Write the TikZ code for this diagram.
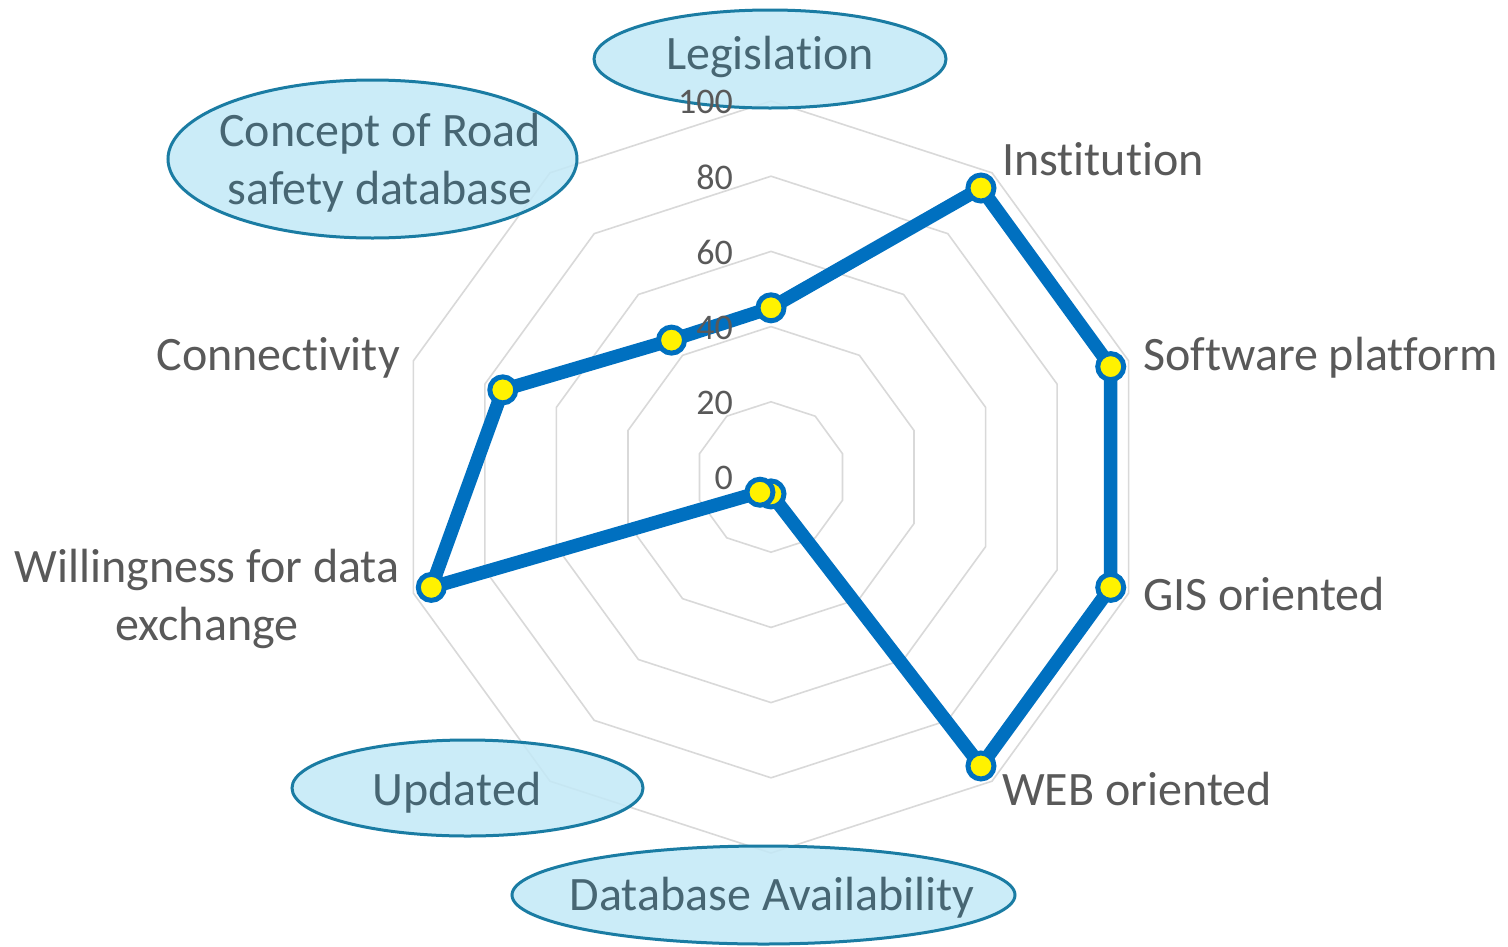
\documentclass[tikz,border=0pt]{standalone}
\usepackage{fontspec}
\setmainfont{Carlito}[Ligatures=NoCommon]
\usetikzlibrary{shapes.geometric}
\definecolor{gridc}{HTML}{D9D9D9}
\definecolor{serc}{HTML}{0070C0}
\definecolor{labc}{HTML}{595959}
\definecolor{ellf}{HTML}{C3E9F7}
\definecolor{elld}{HTML}{1A7CA3}
\definecolor{ellt}{HTML}{476673}
\begin{document}
\begin{tikzpicture}[x=1pt,y=1pt,
  gridline/.style={draw=gridc,line width=1.6pt,line join=miter},
  series/.style={draw=serc,line width=13.5pt,line join=round,line cap=round},
  marker/.style={circle,draw=serc,fill=yellow,line width=5pt,minimum size=26pt,inner sep=0pt},
  axlab/.style={text=labc,font=\fontsize{36}{40}\selectfont,inner sep=0pt,anchor=east},
  catlab/.style={text=labc,font=\fontsize{48}{58}\selectfont,inner sep=0pt},
  bubble/.style={ellipse,draw=elld,line width=3pt,fill=ellf,fill opacity=0.85,inner sep=0pt},
  bubtext/.style={text=ellt,font=\fontsize{48}{58}\selectfont,inner sep=0pt,align=center}]
\useasboundingbox (0,-946) rectangle (1508,0);
\fill[white] (0,-946) rectangle (1508,0);
\begin{scope}[shift={(771,-477)}]
  % grid rings
  \foreach \r in {20,40,60,80,100}{
    \draw[gridline] (90:{3.76*\r}) \foreach \k in {1,...,9}{ -- ({90-36*\k}:{3.76*\r}) } -- cycle;
  }
  % data coordinates
  \coordinate (d1) at (90:{3.76*45});
  \coordinate (d2) at (54:{3.76*95});
  \coordinate (d3) at (18:{3.76*95});
  \coordinate (d4) at (-18:{3.76*95});
  \coordinate (d5) at (-54:{3.76*95});
  \coordinate (d6) at (-90:{3.76*4.5});
  \coordinate (d7) at (-126:{3.76*5});
  \coordinate (d8) at (-162:{3.76*95});
  \coordinate (d9) at (162:{3.76*75});
  \coordinate (d10) at (126:{3.76*45});
  \draw[series] (d1) -- (d2) -- (d3) -- (d4) -- (d5) -- (d6) -- (d7) -- (d8) -- (d9) -- (d10) -- cycle;
\end{scope}
% category labels
\node[catlab,anchor=base west] (lInst) at (1002,-175) {Institution};
\node[catlab,anchor=base west] (lSoft) at (1143,-370) {Software platform};
\node[catlab,anchor=base west] (lGIS) at (1143,-610) {GIS oriented};
\node[catlab,anchor=base west] (lWEB) at (1002,-805) {WEB oriented};
\node[catlab,anchor=base east] (lConn) at (400,-370) {Connectivity};
\node[catlab,align=center,anchor=base] (lWill) at (207,-640) {Willingness for data\\exchange};
% bubbles
\node[bubble,minimum width=352pt,minimum height=98pt] (eLeg) at (770,-59) {};
\node[bubtext,anchor=base] (tLeg) at (770,-69) {Legislation};
\node[bubble,minimum width=409pt,minimum height=158pt] (eCon) at (372.5,-159) {};
\node[bubtext,anchor=base] (tCon) at (380,-204) {Concept of Road\\safety database};
\node[bubble,minimum width=351pt,minimum height=96pt] (eUpd) at (467.5,-788) {};
\node[bubtext,anchor=base] (tUpd) at (457,-805) {Updated};
\node[bubble,minimum width=503pt,minimum height=98pt] (eDB) at (763.5,-895) {};
\node[bubtext,anchor=base] (tDB) at (772,-910) {Database Availability};
\begin{scope}[shift={(771,-477)}]
  % axis labels
  \foreach \v/\nm in {0/a0,20/a20,40/a40,60/a60,80/a80,100/a100}{
    \node[axlab] (\nm) at (-38,{3.76*\v-1}) {\v};
  }
  \foreach \i in {1,...,10}{ \node[marker] (m\i) at (d\i) {}; }
\end{scope}
\end{tikzpicture}
\end{document}
